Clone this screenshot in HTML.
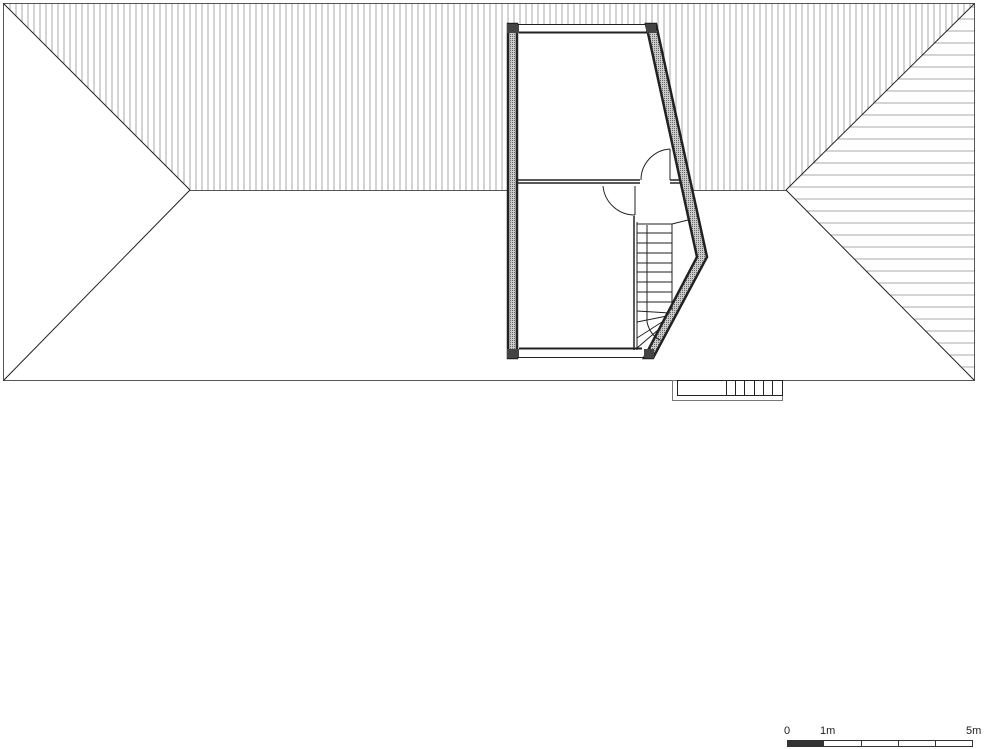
<!DOCTYPE html>
<html><head><meta charset="utf-8"><style>
html,body{margin:0;padding:0;background:#fff;}
svg{display:block;}
text{font-family:"Liberation Sans",sans-serif;font-size:11px;fill:#222;}
</style></head><body>
<svg width="1000" height="749" viewBox="0 0 1000 749" xmlns="http://www.w3.org/2000/svg">
<defs>
<pattern id="vl" x="1" y="0" width="6" height="10" patternUnits="userSpaceOnUse">
<line x1="3" y1="0" x2="3" y2="10" stroke="#aaa" stroke-width="1"/>
</pattern>
<pattern id="hl" x="0" y="1" width="10" height="12" patternUnits="userSpaceOnUse">
<line x1="0" y1="6" x2="10" y2="6" stroke="#aaa" stroke-width="1"/>
</pattern>
<pattern id="dots" width="2" height="2" patternUnits="userSpaceOnUse">
<rect width="2" height="2" fill="#ccc"/><rect width="1" height="1" fill="#666"/>
</pattern>
</defs>
<polygon points="3,3 975,3 786,190 190,190" fill="url(#vl)"/>
<polygon points="975,3 975,380 786,190" fill="url(#hl)"/>
<g stroke="#222" stroke-width="1" fill="none">
<rect x="3.5" y="3.5" width="971" height="377" stroke="#555"/>
<line x1="3.5" y1="3.5" x2="190" y2="190"/>
<line x1="3.5" y1="380.5" x2="190" y2="190"/>
<line x1="974.5" y1="3.5" x2="786" y2="190"/>
<line x1="974.5" y1="380.5" x2="786" y2="190"/>
<line x1="190" y1="190.5" x2="786" y2="190.5" stroke="#555"/>
</g>
<polygon points="507,24 656,24 707,257 653,358 507,358" fill="#fff"/>
<polygon points="508,24 517,24 517,358 508,358" fill="url(#dots)" stroke="#222" stroke-width="2.5"/>
<polygon points="646,24 656,24 707,257 653,358 644,358 697,257" fill="url(#dots)" stroke="#222" stroke-width="2.5"/>
<rect x="507" y="24" width="12" height="9" fill="#444"/>
<rect x="507" y="349" width="12" height="9" fill="#444"/>
<rect x="646" y="24" width="10" height="9" fill="#444"/>
<rect x="644" y="349" width="10" height="9" fill="#444"/>
<g stroke="#222" fill="none" stroke-width="1">
<line x1="517" y1="24.5" x2="646" y2="24.5"/>
<line x1="519" y1="32.5" x2="647" y2="32.5" stroke-width="2"/>
<line x1="519" y1="348.5" x2="642" y2="348.5" stroke-width="2"/>
<line x1="517" y1="357.5" x2="645" y2="357.5"/>
<line x1="517" y1="180" x2="640" y2="180" stroke-width="1.5"/>
<line x1="517" y1="183" x2="640" y2="183" stroke-width="1.5"/>
<line x1="670" y1="180" x2="680" y2="180" stroke-width="1.5"/>
<line x1="670" y1="183" x2="680" y2="183" stroke-width="1.5"/>
<path d="M670,149 A31,31 0 0 0 641,180"/>
<line x1="670" y1="149" x2="670" y2="180"/>
<path d="M603,186 A32,32 0 0 0 635,215"/>
<line x1="635" y1="186" x2="635" y2="215"/>
<line x1="634" y1="216" x2="634" y2="350" stroke-width="1.5"/>
<line x1="637" y1="222" x2="637" y2="350"/>
<line x1="672" y1="224" x2="672" y2="310"/>
<line x1="672" y1="224" x2="688" y2="220"/>
<line x1="637" y1="224" x2="672" y2="224"/>
<line x1="637" y1="233" x2="672" y2="233"/>
<line x1="637" y1="243" x2="672" y2="243"/>
<line x1="637" y1="253" x2="672" y2="253"/>
<line x1="637" y1="263" x2="672" y2="263"/>
<line x1="637" y1="272" x2="672" y2="272"/>
<line x1="637" y1="282" x2="672" y2="282"/>
<line x1="637" y1="292" x2="672" y2="292"/>
<line x1="637" y1="302" x2="672" y2="302"/>
<line x1="637" y1="311" x2="670" y2="313"/>
<line x1="637" y1="322" x2="667" y2="316"/>
<line x1="637" y1="338" x2="662" y2="322"/>
<line x1="637" y1="348" x2="658" y2="330"/>
<path d="M647,225 L647,322 Q650,335 660,340"/>
<rect x="672.5" y="380.5" width="110" height="20" stroke="#777"/>
<rect x="677.5" y="380.5" width="105" height="15"/>
<line x1="726.5" y1="380" x2="726.5" y2="396"/>
<line x1="735.5" y1="380" x2="735.5" y2="396"/>
<line x1="744.5" y1="380" x2="744.5" y2="396"/>
<line x1="754.5" y1="380" x2="754.5" y2="396"/>
<line x1="763.5" y1="380" x2="763.5" y2="396"/>
<line x1="772.5" y1="380" x2="772.5" y2="396"/>
</g>
<rect x="787" y="740" width="37" height="7" fill="#333"/>
<g stroke="#333" fill="none" stroke-width="1">
<rect x="787.5" y="740.5" width="185" height="6"/>
<line x1="861.5" y1="740" x2="861.5" y2="747"/>
<line x1="898.5" y1="740" x2="898.5" y2="747"/>
<line x1="935.5" y1="740" x2="935.5" y2="747"/>
</g>
<text x="784" y="734">0</text>
<text x="820" y="734">1m</text>
<text x="966" y="734">5m</text>
</svg>
</body></html>
